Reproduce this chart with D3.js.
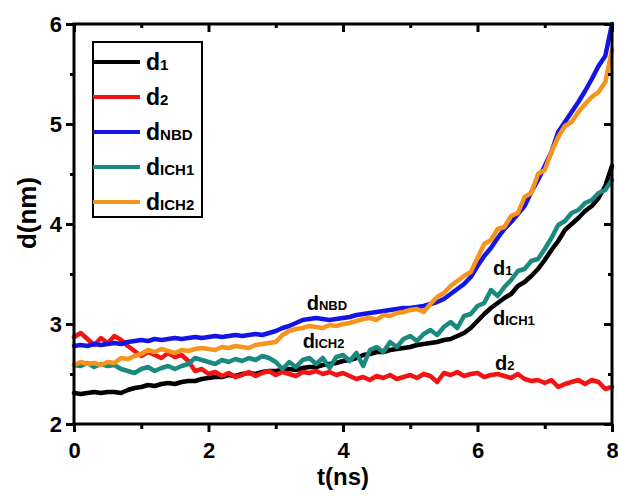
<!DOCTYPE html>
<html>
<head>
<meta charset="utf-8">
<script src="https://cdn.jsdelivr.net/npm/d3@7/dist/d3.min.js"></script>
<style>
  body { margin: 0; background: #fff; }
  text { font-family: "Liberation Sans", Arial, sans-serif; font-weight: bold; fill: #000; }
</style>
</head>
<body>
<svg id="chart" width="618" height="496"></svg>
<script>
// sampled every 0.1 ns, from 0 to 8 ns
var tStep = 0.1;

var d1 = [
  2.31, 2.30, 2.31, 2.32, 2.31, 2.32, 2.32, 2.31, 2.34, 2.36,
  2.37, 2.39, 2.38, 2.40, 2.41, 2.40, 2.42, 2.43, 2.43, 2.45,
  2.46, 2.47, 2.47, 2.49, 2.48, 2.50, 2.51, 2.50, 2.52, 2.53,
  2.53, 2.54, 2.55, 2.54, 2.56, 2.57, 2.57, 2.59, 2.60, 2.61,
  2.63, 2.64, 2.66, 2.69, 2.70, 2.72, 2.72, 2.74, 2.75, 2.76,
  2.77, 2.79, 2.80, 2.81, 2.82, 2.84, 2.85, 2.88, 2.91, 2.96,
  3.03, 3.10, 3.16, 3.21, 3.26, 3.30, 3.38, 3.42, 3.48, 3.55,
  3.64, 3.74, 3.83, 3.94, 4.00, 4.06, 4.13, 4.18, 4.26, 4.38,
  4.58
];
var d2 = [
  2.87, 2.91, 2.85, 2.79, 2.86, 2.81, 2.88, 2.84, 2.78, 2.73,
  2.68, 2.72, 2.69, 2.66, 2.71, 2.67, 2.69, 2.63, 2.53, 2.55,
  2.50, 2.52, 2.48, 2.51, 2.47, 2.49, 2.52, 2.48, 2.51, 2.53,
  2.49, 2.52, 2.50, 2.48, 2.52, 2.51, 2.53, 2.50, 2.52, 2.49,
  2.51, 2.48, 2.45, 2.47, 2.44, 2.48, 2.46, 2.49, 2.45, 2.47,
  2.49, 2.46, 2.50, 2.48, 2.42, 2.51, 2.49, 2.52, 2.48, 2.50,
  2.51, 2.47, 2.49, 2.50, 2.48, 2.46, 2.50, 2.45, 2.43, 2.44,
  2.41, 2.44, 2.37, 2.40, 2.42, 2.44, 2.40, 2.44, 2.42, 2.35,
  2.37
];
var dNBD = [
  2.78, 2.79, 2.78, 2.80, 2.79, 2.80, 2.81, 2.80, 2.82, 2.83,
  2.84, 2.83, 2.85, 2.84, 2.85, 2.86, 2.85, 2.86, 2.87, 2.86,
  2.87, 2.88, 2.87, 2.88, 2.89, 2.88, 2.89, 2.90, 2.89, 2.91,
  2.93, 2.96, 2.98, 3.01, 3.04, 3.05, 3.06, 3.05, 3.04, 3.05,
  3.06, 3.07, 3.09, 3.10, 3.11, 3.12, 3.13, 3.14, 3.15, 3.16,
  3.16, 3.17, 3.18, 3.20, 3.22, 3.25, 3.30, 3.35, 3.40, 3.47,
  3.58, 3.68, 3.76, 3.86, 3.95, 4.02, 4.10, 4.18, 4.32, 4.44,
  4.58, 4.72, 4.92, 5.02, 5.12, 5.22, 5.33, 5.45, 5.58, 5.68,
  6.00
];
var dICH1 = [
  2.59, 2.58, 2.61, 2.57, 2.60, 2.58, 2.59, 2.55, 2.53, 2.51,
  2.55, 2.57, 2.53, 2.56, 2.58, 2.55, 2.58, 2.60, 2.66, 2.64,
  2.62, 2.60, 2.64, 2.62, 2.65, 2.63, 2.66, 2.64, 2.68, 2.66,
  2.62, 2.55, 2.62, 2.57, 2.64, 2.66, 2.60, 2.66, 2.56, 2.67,
  2.69, 2.63, 2.71, 2.58, 2.74, 2.77, 2.72, 2.82, 2.77, 2.85,
  2.88, 2.83, 2.90, 2.94, 2.89, 2.97, 3.02, 2.96, 3.08, 3.10,
  3.18, 3.21, 3.34, 3.28, 3.37, 3.44, 3.53, 3.55, 3.63, 3.65,
  3.75, 3.86, 3.99, 4.03, 4.11, 4.14, 4.21, 4.24, 4.31, 4.34,
  4.44
];
var dICH2 = [
  2.59, 2.62, 2.60, 2.61, 2.59, 2.62, 2.61, 2.66, 2.65, 2.68,
  2.70, 2.74, 2.72, 2.75, 2.73, 2.71, 2.74, 2.73, 2.75, 2.76,
  2.75, 2.74, 2.77, 2.76, 2.78, 2.77, 2.76, 2.79, 2.80, 2.81,
  2.82, 2.89, 2.93, 2.95, 2.96, 2.98, 2.97, 2.96, 2.99, 2.98,
  3.00, 3.01, 3.03, 3.05, 3.06, 3.04, 3.09, 3.08, 3.11, 3.12,
  3.14, 3.15, 3.12, 3.20, 3.27, 3.31, 3.38, 3.43, 3.48, 3.52,
  3.66, 3.80, 3.84, 3.95, 3.97, 4.08, 4.11, 4.27, 4.31, 4.50,
  4.54, 4.72, 4.87, 4.98, 5.02, 5.12, 5.20, 5.27, 5.32, 5.42,
  5.74
];

var seriesNames = ['1', '2', 'NBD', 'ICH1', 'ICH2'];
var seriesValues = [d1, d2, dNBD, dICH1, dICH2];
var seriesColors = ['#000000', '#f21414', '#1414e6', '#1a8a80', '#f7941d'];

var xTicks = [0, 2, 4, 6, 8];
var xMinor = [1, 3, 5, 7];
var yTicks = [2, 3, 4, 5, 6];
var yMinor = [2.5, 3.5, 4.5, 5.5];

// in-plot labels: [subscript, t, d]
var annotations = [
  ['NBD', 3.46, 3.14],
  ['ICH2', 3.4, 2.76],
  ['1', 6.23, 3.49],
  ['ICH1', 6.23, 2.99],
  ['2', 6.26, 2.54]
];

(function() {
  var svg = d3.select('#chart');
  var m = {left: 74, right: 612, top: 24, bottom: 424};

  var x = d3.scaleLinear().domain([0, 8]).range([m.left, m.right]);
  var y = d3.scaleLinear().domain([2, 6]).range([m.bottom, m.top]);

  var line = d3.line()
    .x(function(d, i) { return x(i * tStep); })
    .y(function(d) { return y(d); });

  var lines = svg.append('g');
  seriesValues.forEach(function(vals, k) {
    lines.append('path')
      .attr('d', line(vals))
      .attr('fill', 'none')
      .attr('stroke', seriesColors[k])
      .attr('stroke-width', 4.5)
      .attr('stroke-linejoin', 'round')
      .attr('stroke-linecap', 'round');
  });

  // frame
  svg.append('rect')
    .attr('x', m.left).attr('y', m.top)
    .attr('width', m.right - m.left).attr('height', m.bottom - m.top)
    .attr('fill', 'none').attr('stroke', '#000').attr('stroke-width', 3);

  function styleAxis(g) {
    g.select('.domain').remove();
    g.selectAll('line').attr('stroke', '#000').attr('stroke-width', 3);
    g.selectAll('text').style('font-size', '22px');
  }

  svg.append('g').attr('transform', 'translate(0,' + m.bottom + ')')
    .call(d3.axisBottom(x).tickValues(xTicks).tickSize(8).tickPadding(10).tickFormat(d3.format('d')))
    .call(styleAxis);
  svg.append('g').attr('transform', 'translate(0,' + m.bottom + ')')
    .call(d3.axisBottom(x).tickValues(xMinor).tickSize(5).tickFormat(''))
    .call(styleAxis);
  svg.append('g').attr('transform', 'translate(0,' + m.top + ')')
    .call(d3.axisTop(x).tickValues(xTicks).tickSize(-8).tickFormat(''))
    .call(styleAxis);
  svg.append('g').attr('transform', 'translate(0,' + m.top + ')')
    .call(d3.axisTop(x).tickValues(xMinor).tickSize(-4).tickFormat(''))
    .call(styleAxis);

  svg.append('g').attr('transform', 'translate(' + m.left + ',0)')
    .call(d3.axisLeft(y).tickValues(yTicks).tickSize(8).tickPadding(4).tickFormat(d3.format('d')))
    .call(styleAxis);
  svg.append('g').attr('transform', 'translate(' + m.left + ',0)')
    .call(d3.axisLeft(y).tickValues(yMinor).tickSize(4).tickFormat(''))
    .call(styleAxis);
  svg.append('g').attr('transform', 'translate(' + m.right + ',0)')
    .call(d3.axisRight(y).tickValues(yTicks).tickSize(-8).tickFormat(''))
    .call(styleAxis);
  svg.append('g').attr('transform', 'translate(' + m.right + ',0)')
    .call(d3.axisRight(y).tickValues(yMinor).tickSize(-4).tickFormat(''))
    .call(styleAxis);

  // axis titles
  svg.append('text')
    .attr('x', (m.left + m.right) / 2).attr('y', 485)
    .attr('text-anchor', 'middle')
    .style('font-size', '24px')
    .text('t(ns)');
  svg.append('text')
    .attr('transform', 'translate(36,213) rotate(-90)')
    .attr('text-anchor', 'middle')
    .style('font-size', '26px')
    .text('d(nm)');

  // legend
  var legend = svg.append('g');
  legend.append('rect')
    .attr('x', 93).attr('y', 42).attr('width', 109).attr('height', 175)
    .attr('fill', '#fff').attr('stroke', '#000').attr('stroke-width', 2);
  seriesNames.forEach(function(name, k) {
    var cy = 62 + k * 35;
    legend.append('line')
      .attr('x1', 93).attr('x2', 140).attr('y1', cy).attr('y2', cy)
      .attr('stroke', seriesColors[k]).attr('stroke-width', 4);
    var t = legend.append('text')
      .attr('x', 146).attr('y', cy + 8)
      .style('font-size', '23px');
    t.append('tspan').text('d');
    t.append('tspan').style('font-size', '15px').text(name);
  });

  // labels next to the curves
  annotations.forEach(function(a) {
    var t = svg.append('text')
      .attr('x', x(a[1])).attr('y', y(a[2]))
      .style('font-size', '20px');
    t.append('tspan').text('d');
    t.append('tspan').style('font-size', '13px').text(a[0]);
  });
})();
</script>
</body>
</html>
